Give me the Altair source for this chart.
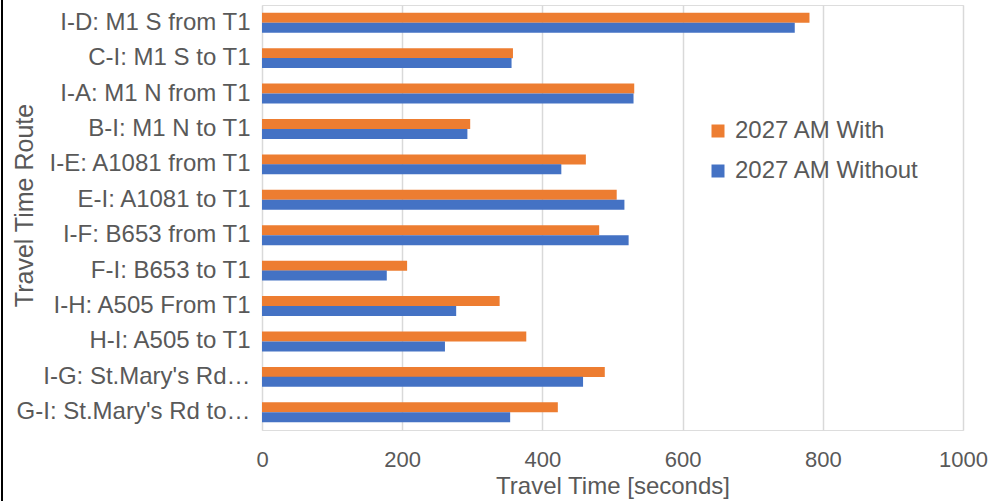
import altair as alt
import pandas as pd

routes = [
    "I-D: M1 S from T1",
    "C-I: M1 S to T1",
    "I-A: M1 N from T1",
    "B-I: M1 N to T1",
    "I-E: A1081 from T1",
    "E-I: A1081 to T1",
    "I-F: B653 from T1",
    "F-I: B653 to T1",
    "I-H: A505 From T1",
    "H-I: A505 to T1",
    "I-G: St.Mary's Rd\u2026",
    "G-I: St.Mary's Rd to\u2026",
]
with_vals = [781, 358, 531, 297, 462, 506, 481, 207, 339, 377, 489, 422]
without_vals = [760, 356, 530, 293, 427, 517, 523, 178, 277, 261, 458, 354]
series = ["2027 AM With", "2027 AM Without"]
colors = ["#ED7D31", "#4472C4"]
x_ticks = [0, 200, 400, 600, 800, 1000]

rows = []
for r, a, b in zip(routes, with_vals, without_vals):
    rows.append({"route": r, "series": series[0], "value": a})
    rows.append({"route": r, "series": series[1], "value": b})
df = pd.DataFrame(rows)

FONT = "Liberation Sans"
TXT = "#595959"

bars = alt.Chart(df).mark_bar(size=10).encode(
    y=alt.Y(
        "route:N",
        sort=routes,
        scale=alt.Scale(paddingInner=0.44, paddingOuter=0.22),
        axis=alt.Axis(
            title="Travel Time Route",
            titleFontSize=25,
            titleFont=FONT,
            titleColor=TXT,
            titleFontWeight="normal",
            titleX=-238,
            titleY=200,
            titleAngle=270,
            titleAlign="center",
            titleBaseline="middle",
            labelFont=FONT,
            labelFontSize=24,
            labelColor=TXT,
            labelPadding=12,
            labelLimit=300,
            ticks=False,
            tickSize=0,
            domain=False,
            grid=False,
        ),
    ),
    yOffset=alt.YOffset("series:N", sort=series),
    x=alt.X(
        "value:Q",
        scale=alt.Scale(domain=[0, 1000], nice=False),
        axis=alt.Axis(
            values=x_ticks,
            format="d",
            title="Travel Time [seconds]",
            titleFontSize=24,
            titleFont=FONT,
            titleColor=TXT,
            titleFontWeight="normal",
            titleBaseline="alphabetic",
            titleY=63,
            labelFont=FONT,
            labelFontSize=22,
            labelColor=TXT,
            labelBaseline="alphabetic",
            labelPadding=36,
            labelFlush=False,
            ticks=False,
            tickSize=0,
            domain=False,
            grid=True,
            gridColor="#D9D9D9",
            gridWidth=1.5,
        ),
    ),
    color=alt.Color(
        "series:N",
        sort=series,
        scale=alt.Scale(domain=series, range=colors),
        legend=alt.Legend(
            title=None,
            orient="none",
            legendX=444,
            legendY=114,
            symbolType="square",
            symbolSize=169,
            symbolStrokeWidth=0,
            labelFont=FONT,
            labelFontSize=24,
            labelColor=TXT,
            labelOffset=5,
            labelLimit=400,
            rowPadding=16,
        ),
    ),
)

border = alt.Chart(pd.DataFrame({"k": [0]})).mark_rule(color="#000000", strokeWidth=2).encode(
    x=alt.value(-260), y=alt.value(-10), y2=alt.value(500)
)

chart = alt.layer(border, bars).properties(
    width=701,
    height=425,
    autosize=alt.AutoSizeParams(type="none"),
    padding={"left": 262, "top": 5, "right": 27, "bottom": 71},
).configure_view(stroke=None).configure(background="white")

chart.save("out.html", embed_options={"renderer": "svg", "actions": False})
